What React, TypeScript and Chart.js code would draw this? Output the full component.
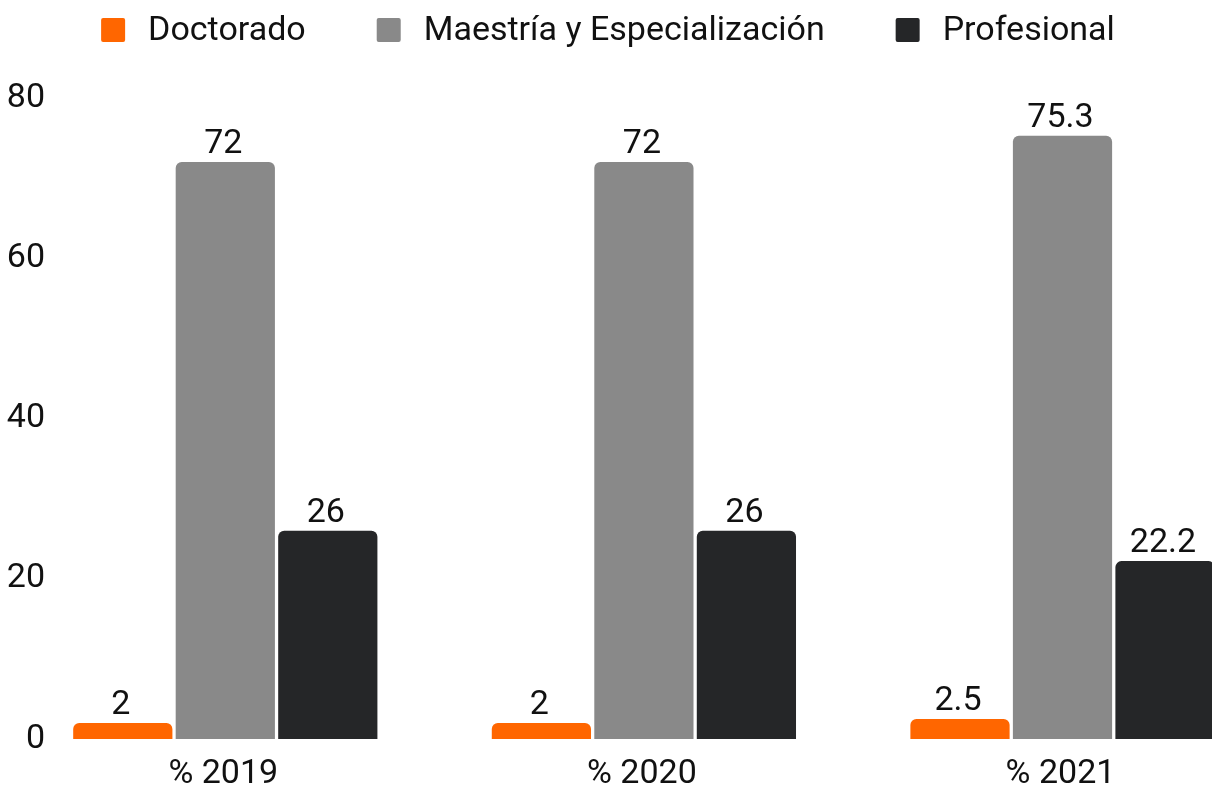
import React, { useEffect, useRef } from "react";
import { Chart, registerables } from "chart.js";

Chart.register(...registerables);

const categories = ["% 2019", "% 2020", "% 2021"];
const seriesNames = ["Doctorado", "Maestría y Especialización", "Profesional"];
const doctorado = [2, 2, 2.5];
const maestria = [72, 72, 75.3];
const profesional = [26, 26, 22.2];
const seriesColors = ["#FF6600", "#898989", "#252628"];
const yMin = 0;
const yMax = 80;
const yStep = 20;

const FONT = "Roboto";
const CANVAS_W = 1280;
const CANVAS_H = 816;

const valueLabelsPlugin = {
  id: "valueLabels",
  afterDatasetsDraw(chart: any) {
    const ctx = chart.ctx;
    ctx.save();
    ctx.font = `34px ${FONT}`;
    ctx.fillStyle = "#111111";
    ctx.textAlign = "center";
    ctx.textBaseline = "alphabetic";
    chart.data.datasets.forEach((ds: any, i: number) => {
      const meta = chart.getDatasetMeta(i);
      meta.data.forEach((bar: any, j: number) => {
        ctx.fillText(String(ds.data[j]), bar.x - 2, bar.y - 9);
      });
    });
    ctx.restore();
  },
};

// y-axis tick labels drawn inside the plot area, right-aligned, from the y scale's own ticks
const yTickLabelsPlugin = {
  id: "yTickLabels",
  afterDraw(chart: any) {
    const scale = chart.scales.y;
    const ctx = chart.ctx;
    ctx.save();
    ctx.font = `34px ${FONT}`;
    ctx.fillStyle = "#111111";
    ctx.textAlign = "right";
    ctx.textBaseline = "middle";
    scale.ticks.forEach((t: any) => {
      ctx.fillText(String(t.value), chart.chartArea.left + 29, scale.getPixelForValue(t.value));
    });
    ctx.restore();
  },
};

const topLegendPlugin = {
  id: "topLegend",
  afterDraw(chart: any) {
    const ctx = chart.ctx;
    const fontSize = 34;
    const box = 24;
    const boxGap = 23;
    const itemGap = 71;
    const centerX = 608;
    const midY = 30;
    ctx.save();
    ctx.font = `${fontSize}px ${FONT}`;
    const items = chart.data.datasets.map((ds: any) => ({
      label: ds.label,
      color: ds.backgroundColor,
      w: ctx.measureText(ds.label).width,
    }));
    const total =
      items.reduce((s: number, it: any) => s + box + boxGap + it.w, 0) +
      itemGap * (items.length - 1);
    let x = centerX - total / 2;
    items.forEach((it: any) => {
      ctx.fillStyle = it.color;
      ctx.beginPath();
      (ctx as any).roundRect(x, midY - box / 2, box, box, 2);
      ctx.fill();
      ctx.fillStyle = "#111111";
      ctx.textAlign = "left";
      ctx.textBaseline = "middle";
      ctx.fillText(it.label, x + box + boxGap, midY + 1);
      x += box + boxGap + it.w + itemGap;
    });
    ctx.restore();
  },
};

export default function App() {
  const canvasRef = useRef<HTMLCanvasElement | null>(null);

  useEffect(() => {
    if (!canvasRef.current) return;
    const values = [doctorado, maestria, profesional];
    const chart = new Chart(canvasRef.current, {
      type: "bar",
      data: {
        labels: categories,
        datasets: seriesNames.map((name, i) => ({
          label: name,
          data: values[i],
          backgroundColor: seriesColors[i],
          borderWidth: 0,
          borderRadius: 6,
          barPercentage: 0.968,
          categoryPercentage: 0.7346,
        })),
      },
      options: {
        responsive: false,
        maintainAspectRatio: false,
        animation: false,
        devicePixelRatio: 1,
        layout: {
          padding: { left: 16, right: 8.2, top: 98, bottom: 6.2 },
        },
        plugins: {
          legend: { display: false },
          tooltip: { enabled: false },
        },
        scales: {
          x: {
            grid: { display: false, drawTicks: false },
            border: { display: false },
            ticks: {
              color: "#111111",
              font: { family: FONT, size: 34 },
              padding: 15,
              labelOffset: -2,
              maxRotation: 0,
            },
          },
          y: {
            min: yMin,
            max: yMax,
            grid: { display: false, drawTicks: false },
            border: { display: false },
            ticks: {
              display: false,
              stepSize: yStep,
            },
            afterFit(scale: any) {
              scale.width = 0;
            },
          },
        },
      },
      plugins: [valueLabelsPlugin, yTickLabelsPlugin, topLegendPlugin],
    });
    return () => chart.destroy();
  }, []);

  return (
    <div
      style={{
        position: "fixed",
        left: 0,
        top: 0,
        width: 1212,
        height: 787,
        overflow: "hidden",
        background: "#ffffff",
      }}
    >
      <canvas
        ref={canvasRef}
        width={CANVAS_W}
        height={CANVAS_H}
        style={{ display: "block", width: CANVAS_W, height: CANVAS_H }}
      />
    </div>
  );
}
